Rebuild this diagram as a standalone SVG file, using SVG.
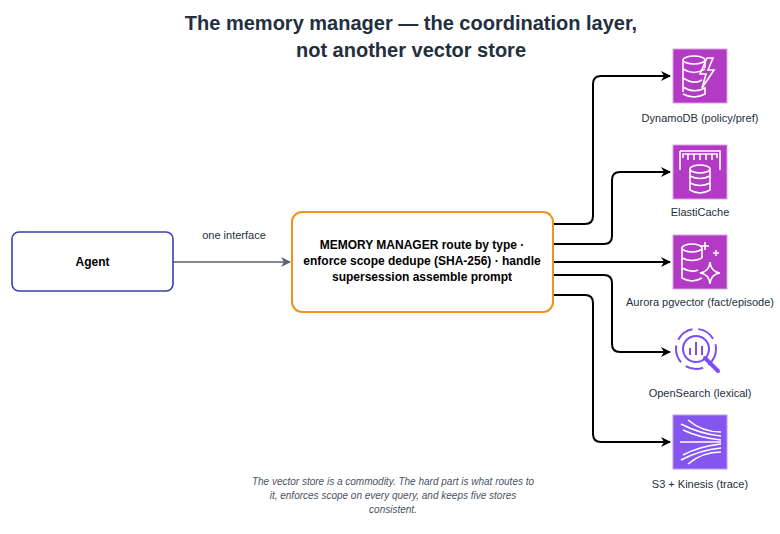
<svg xmlns="http://www.w3.org/2000/svg" width="780" height="534" viewBox="0 0 780 534">
<defs>
<marker id="ah" markerWidth="10" markerHeight="10" refX="9" refY="5" orient="auto" markerUnits="userSpaceOnUse"><path d="M0,0 L10,5 L0,10 L3,5 Z" fill="#000"/></marker>
<marker id="ag" markerWidth="10" markerHeight="10" refX="9" refY="5" orient="auto" markerUnits="userSpaceOnUse"><path d="M0,0 L10,5 L0,10 L3,5 Z" fill="#5a6170"/></marker>
</defs>
<style>
text{font-family:"Liberation Sans",Arial,sans-serif;fill:#232f3e}
.lbl{font-size:11px;text-anchor:middle}
.c{fill:none;stroke:#000;stroke-width:2;marker-end:url(#ah)}
.ic{fill:none;stroke:#fff;stroke-width:1.6}
</style>
<rect width="780" height="534" fill="#fff"/>
<text x="411" y="30" font-size="20" font-weight="bold" text-anchor="middle">The memory manager — the coordination layer,</text>
<text x="411" y="57" font-size="20" font-weight="bold" text-anchor="middle">not another vector store</text>
<g id="connectors">
<path class="c" style="stroke:#5a6170;stroke-width:1.5;marker-end:url(#ag)" d="M173,262 H290"/>
<text class="lbl" x="234" y="239">one interface</text>
<path class="c" d="M553,224 H585 Q593,224 593,216 V84 Q593,76 601,76 H670"/>
<path class="c" d="M553,244 H604 Q612,244 612,236 V180 Q612,172 620,172 H670"/>
<path class="c" d="M553,262 H670"/>
<path class="c" d="M553,275 H604 Q612,275 612,283 V344 Q612,352 620,352 H670"/>
<path class="c" d="M553,295 H585 Q593,295 593,303 V434 Q593,442 601,442 H670"/>
</g>
<g id="agent"><rect x="12" y="232" width="161" height="59" rx="7" fill="#fff" stroke="#3b3fa8" stroke-width="1.6"/><text x="92.5" y="266" font-size="12" font-weight="bold" text-anchor="middle" style="fill:#000">Agent</text></g>
<g id="manager"><rect x="292" y="212" width="261" height="100" rx="10" fill="#fff" stroke="#f0921c" stroke-width="2"/>
<text font-size="12" font-weight="bold" text-anchor="middle" style="fill:#000"><tspan x="422" y="249">MEMORY MANAGER route by type ·</tspan><tspan x="422" y="265">enforce scope dedupe (SHA-256) · handle</tspan><tspan x="422" y="281">supersession assemble prompt</tspan></text></g>
<g id="dynamodb"><rect x="673" y="49" width="54" height="54" fill="#b23ac4" stroke="#d9a4e2"/>
<ellipse class="ic" cx="694" cy="60" rx="11" ry="4"/><path class="ic" d="M683,60 V92 M705,60 V68 M683,69 Q694,76 705,69 M683,78 Q694,85 702,80 M683,87 Q694,94 705,88 V94 Q694,100 683,94"/><path class="ic" d="M707,58 L700,74 H706 L702,88 L714,70 H708 L713,58 Z"/>
<text class="lbl" x="700" y="122">DynamoDB (policy/pref)</text></g>
<g id="elasticache"><rect x="673" y="145" width="54" height="54" fill="#b23ac4" stroke="#d9a4e2"/>
<path class="ic" d="M680,151 H720 V170 M680,151 V170 M683,158 V154 H717 V158 M688,154 V160 M694,154 V160 M700,154 V160 M706,154 V160 M712,154 V160"/>
<ellipse class="ic" cx="700" cy="169" rx="10" ry="4"/><path class="ic" d="M690,169 V190 Q700,196 710,190 V169 M690,176 Q700,181 710,176 M690,183 Q700,188 710,183"/>
<text class="lbl" x="700" y="216">ElastiCache</text></g>
<g id="aurora"><rect x="673" y="235" width="54" height="54" fill="#b23ac4" stroke="#d9a4e2"/>
<ellipse class="ic" cx="692" cy="248" rx="10" ry="4"/><path class="ic" d="M682,248 V278 Q692,284 702,278 M702,248 V258 M682,258 Q692,263 702,258 M682,268 Q692,273 698,270"/>
<path class="ic" d="M710,262 Q711,272 720,273 Q711,274 710,284 Q709,274 700,273 Q709,272 710,262 Z M705,242 V250 M701,246 H709 M716,250 V256 M713,253 H719"/>
<text class="lbl" x="700" y="306">Aurora pgvector (fact/episode)</text></g>
<g id="opensearch"><g fill="none" stroke="#7a4ff0" stroke-width="2">
<circle cx="696" cy="349" r="13"/><circle cx="696" cy="349" r="20" stroke-dasharray="18 6"/><path d="M705,358 L718,371" stroke-width="4" stroke-linecap="round"/><path d="M690,355 V348 M696,355 V342 M702,355 V346"/></g>
<text class="lbl" x="700" y="397">OpenSearch (lexical)</text></g>
<g id="s3kinesis"><rect x="673" y="415" width="54" height="54" fill="#8456ef" stroke="#b79cf6"/>
<path class="ic" d="M681,424 Q700,434 721,436 M683,430 Q700,438 721,440 M680,442 H721 M683,455 Q700,446 721,444 M681,460 Q700,450 721,448 M688,420 Q702,432 721,432 M688,464 Q702,452 721,452"/>
<text class="lbl" x="700" y="488">S3 + Kinesis (trace)</text></g>
<text font-size="10" font-style="italic" text-anchor="middle" style="fill:#4a5260"><tspan x="393" y="485">The vector store is a commodity. The hard part is what routes to</tspan><tspan x="393" y="499">it, enforces scope on every query, and keeps five stores</tspan><tspan x="393" y="513">consistent.</tspan></text>
</svg>
